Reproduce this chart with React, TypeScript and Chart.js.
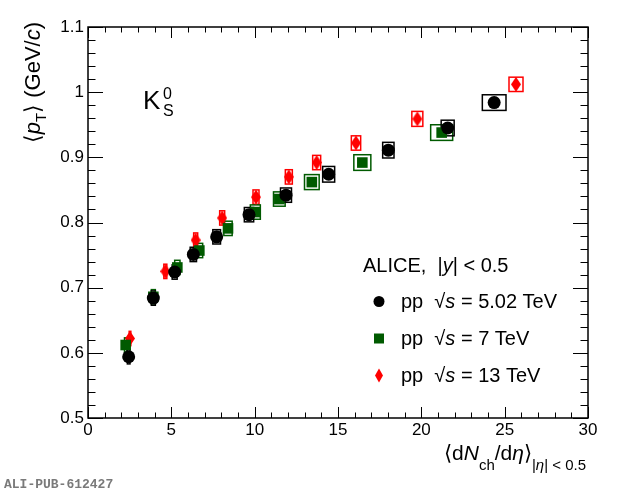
import { useEffect, useRef } from 'react';
import { Chart, registerables } from 'chart.js';

Chart.register(...registerables);

const xTickValues = [0, 5, 10, 15, 20, 25, 30];
const yTickValues = [0.5, 0.6, 0.7, 0.8, 0.9, 1, 1.1];

// pp 5.02 TeV
const mult502 = [2.44, 3.92, 5.2, 6.32, 7.72, 9.66, 11.88, 14.44, 18.02, 21.58, 24.37];
const meanPt502 = [0.594, 0.684, 0.724, 0.751, 0.778, 0.812, 0.842, 0.874, 0.911, 0.945, 0.984];
const multSys502 = [0.08, 0.12, 0.15, 0.19, 0.23, 0.28, 0.33, 0.36, 0.34, 0.39, 0.71];
const ptSys502 = [0.011, 0.011, 0.011, 0.011, 0.011, 0.011, 0.011, 0.012, 0.012, 0.012, 0.012];

// pp 7 TeV
const mult7 = [2.26, 3.92, 5.36, 6.68, 8.4, 10.04, 11.48, 13.43, 16.46, 21.22];
const meanPt7 = [0.612, 0.686, 0.731, 0.757, 0.791, 0.816, 0.836, 0.862, 0.892, 0.938];
const multSys7 = [0.07, 0.12, 0.16, 0.2, 0.25, 0.3, 0.35, 0.44, 0.51, 0.66];
const ptSys7 = [0.011, 0.011, 0.011, 0.011, 0.011, 0.011, 0.011, 0.0115, 0.012, 0.012];

// pp 13 TeV
const mult13 = [2.52, 4.64, 6.46, 8.05, 10.08, 12.05, 13.72, 16.08, 19.76, 25.68];
const meanPt13 = [0.622, 0.725, 0.773, 0.807, 0.839, 0.87, 0.892, 0.922, 0.959, 1.012];
const multSys13 = [0.05, 0.09, 0.12, 0.15, 0.18, 0.21, 0.24, 0.28, 0.33, 0.42];
const ptSys13 = [0.011, 0.011, 0.011, 0.011, 0.011, 0.011, 0.011, 0.011, 0.0115, 0.011];

const legendLabels = ['5.02 TeV', '7 TeV', '13 TeV'];

const BLACK = '#000000';
const GREEN = '#005a00';
const RED = '#ff0000';
const FONT = "'Liberation Sans', Arial, Helvetica, sans-serif";

const series = [
  { x: mult502, y: meanPt502, ex: multSys502, ey: ptSys502, color: BLACK },
  { x: mult7, y: meanPt7, ex: multSys7, ey: ptSys7, color: GREEN },
  { x: mult13, y: meanPt13, ex: multSys13, ey: ptSys13, color: RED },
];

type Seg = { t: string; size: number; italic?: boolean; dy?: number };

// draws a run of text pieces (for sub/superscripts) starting at x, baseline y
function drawRich(ctx: CanvasRenderingContext2D, segs: Seg[], x: number, y: number, align: 'left' | 'right' = 'left') {
  const fontOf = (s: Seg) => `${s.italic ? 'italic ' : ''}${s.size}px ${FONT}`;
  let total = 0;
  for (const s of segs) {
    ctx.font = fontOf(s);
    total += ctx.measureText(s.t).width;
  }
  let cx = align === 'right' ? x - total : x;
  ctx.textAlign = 'left';
  ctx.textBaseline = 'alphabetic';
  for (const s of segs) {
    ctx.font = fontOf(s);
    ctx.fillText(s.t, cx, y + (s.dy || 0));
    cx += ctx.measureText(s.t).width;
  }
}

function makeDiamond(color: string) {
  const c = document.createElement('canvas');
  c.width = 10;
  c.height = 15;
  const g = c.getContext('2d')!;
  g.fillStyle = color;
  g.beginPath();
  g.moveTo(5, 0);
  g.lineTo(10, 7.5);
  g.lineTo(5, 15);
  g.lineTo(0, 7.5);
  g.closePath();
  g.fill();
  return c;
}

const sysBoxes = {
  id: 'sysBoxes',
  beforeDatasetsDraw(chart: any) {
    const { ctx, scales } = chart;
    ctx.save();
    ctx.lineWidth = 1.5;
    for (let k = series.length - 1; k >= 0; k--) {
      const s = series[k];
      ctx.strokeStyle = s.color;
      s.x.forEach((xv, i) => {
        const l = scales.x.getPixelForValue(xv - s.ex[i]);
        const r = scales.x.getPixelForValue(xv + s.ex[i]);
        const t = scales.y.getPixelForValue(s.y[i] + s.ey[i]);
        const b = scales.y.getPixelForValue(s.y[i] - s.ey[i]);
        ctx.strokeRect(l, t, r - l, b - t);
      });
    }
    ctx.restore();
  },
};

const frameAndText = {
  id: 'frameAndText',
  afterDraw(chart: any) {
    const { ctx, chartArea: a, scales } = chart;
    const xs = scales.x;
    const ys = scales.y;
    ctx.save();
    ctx.strokeStyle = '#000';
    ctx.lineWidth = 1;
    ctx.beginPath();
    // x ticks, bottom and top, pointing inwards
    for (let v = 0; v <= 30; v += 1) {
      const px = Math.round(xs.getPixelForValue(v)) + 0.5;
      const len = v % 5 === 0 ? 11 : 5.5;
      ctx.moveTo(px, a.bottom);
      ctx.lineTo(px, a.bottom - len);
      ctx.moveTo(px, a.top);
      ctx.lineTo(px, a.top + len);
    }
    // y ticks, left and right
    for (let i = 0; i <= 30; i++) {
      const v = 0.5 + i * 0.02;
      const py = Math.round(ys.getPixelForValue(v)) + 0.5;
      const len = i % 5 === 0 ? 15 : 7.5;
      ctx.moveTo(a.left, py);
      ctx.lineTo(a.left + len, py);
      ctx.moveTo(a.right, py);
      ctx.lineTo(a.right - len, py);
    }
    ctx.stroke();
    ctx.lineWidth = 1.5;
    ctx.strokeRect(a.left, a.top, a.right - a.left, a.bottom - a.top);

    ctx.fillStyle = '#000';
    // x title
    drawRich(
      ctx,
      [
        { t: '\u27E8d', size: 21 },
        { t: 'N', size: 21, italic: true },
        { t: 'ch', size: 15, dy: 10 },
        { t: '/d', size: 21 },
        { t: '\u03B7', size: 21, italic: true },
        { t: '\u27E9', size: 21 },
        { t: '|', size: 15, dy: 10 },
        { t: '\u03B7', size: 15, italic: true, dy: 10 },
        { t: '| < 0.5', size: 15, dy: 10 },
      ],
      586,
      460,
      'right',
    );

    // y title, rotated
    ctx.save();
    ctx.translate(40, 22);
    ctx.rotate(-Math.PI / 2);
    drawRich(
      ctx,
      [
        { t: '\u27E8', size: 22 },
        { t: 'p', size: 22, italic: true },
        { t: 'T', size: 15, dy: 6 },
        { t: '\u27E9 (GeV/', size: 22 },
        { t: 'c', size: 22, italic: true },
        { t: ')', size: 22 },
      ],
      0,
      0,
      'right',
    );
    ctx.restore();

    // particle label
    drawRich(ctx, [{ t: 'K', size: 26 }], 143, 109);
    drawRich(ctx, [{ t: '0', size: 16 }], 163, 99);
    drawRich(ctx, [{ t: 'S', size: 16 }], 163, 116);

    // legend
    drawRich(
      ctx,
      [
        { t: 'ALICE,  |', size: 20 },
        { t: 'y', size: 20, italic: true },
        { t: '| < 0.5', size: 20 },
      ],
      363,
      272,
    );
    const rows = [308, 345, 382];
    rows.forEach((base, i) => {
      const my = base - 6.5;
      const mx = 379;
      const s = series[i];
      ctx.fillStyle = s.color;
      ctx.beginPath();
      if (i === 0) {
        ctx.arc(mx, my, 5.5, 0, Math.PI * 2);
      } else if (i === 1) {
        ctx.rect(mx - 5, my - 5, 10, 10);
      } else {
        ctx.moveTo(mx, my - 7);
        ctx.lineTo(mx + 4, my);
        ctx.lineTo(mx, my + 7);
        ctx.lineTo(mx - 4, my);
        ctx.closePath();
      }
      ctx.fill();
      ctx.fillStyle = '#000';
      drawRich(
        ctx,
        [
          { t: 'pp  \u221A', size: 20 },
          { t: 's', size: 20, italic: true },
          { t: ' = ' + legendLabels[i], size: 20 },
        ],
        401,
        base,
      );
    });

    // figure id
    ctx.font = "bold 13px 'Liberation Mono', 'DejaVu Sans Mono', monospace";
    ctx.fillStyle = '#7a7a7a';
    ctx.textAlign = 'left';
    ctx.textBaseline = 'alphabetic';
    ctx.fillText('ALI-PUB-612427', 4, 488);
    ctx.restore();
  },
};

export default function App() {
  const canvasRef = useRef<HTMLCanvasElement | null>(null);
  const chartRef = useRef<Chart | null>(null);

  useEffect(() => {
    document.body.style.margin = '0';
    if (!canvasRef.current) return;
    if (chartRef.current) chartRef.current.destroy();

    const diamond = makeDiamond(RED);

    chartRef.current = new Chart(canvasRef.current, {
      type: 'scatter',
      data: {
        datasets: [
          {
            label: 'pp 5.02 TeV',
            data: mult502.map((x, i) => ({ x, y: meanPt502[i] })),
            pointStyle: 'circle',
            pointRadius: 6.5,
            backgroundColor: BLACK,
            borderColor: BLACK,
            borderWidth: 0,
          },
          {
            label: 'pp 7 TeV',
            data: mult7.map((x, i) => ({ x, y: meanPt7[i] })),
            pointStyle: 'rect',
            pointRadius: 7.5,
            backgroundColor: GREEN,
            borderColor: GREEN,
            borderWidth: 0,
          },
          {
            label: 'pp 13 TeV',
            data: mult13.map((x, i) => ({ x, y: meanPt13[i] })),
            pointStyle: diamond,
            backgroundColor: RED,
            borderColor: RED,
          },
        ],
      },
      options: {
        responsive: false,
        animation: false,
        devicePixelRatio: 1,
        layout: { padding: { top: 27, right: 32, left: 0, bottom: 0 } },
        plugins: {
          legend: { display: false },
          tooltip: { enabled: false },
        },
        scales: {
          x: {
            type: 'linear',
            min: 0,
            max: 30,
            grid: { display: false, drawTicks: false },
            border: { display: false },
            afterBuildTicks: (scale: any) => {
              scale.ticks = xTickValues.map((value) => ({ value }));
            },
            afterFit: (scale: any) => {
              scale.height = 76;
            },
            ticks: {
              padding: 2,
              color: '#000',
              font: { family: FONT, size: 17 },
              maxRotation: 0,
              autoSkip: false,
              callback: (v: any) => String(Number(v)),
            },
          },
          y: {
            type: 'linear',
            min: 0.5,
            max: 1.1,
            grid: { display: false, drawTicks: false },
            border: { display: false },
            afterBuildTicks: (scale: any) => {
              scale.ticks = yTickValues.map((value) => ({ value }));
            },
            afterFit: (scale: any) => {
              scale.width = 88;
            },
            ticks: {
              padding: 4,
              color: '#000',
              font: { family: FONT, size: 17 },
              autoSkip: false,
              callback: (v: any) => String(Number(Number(v).toFixed(2))),
            },
          },
        },
      },
      plugins: [sysBoxes, frameAndText],
    });

    return () => {
      if (chartRef.current) {
        chartRef.current.destroy();
        chartRef.current = null;
      }
    };
  }, []);

  return (
    <div style={{ width: 620, height: 494, background: '#fff' }}>
      <canvas ref={canvasRef} width={620} height={494} />
    </div>
  );
}
